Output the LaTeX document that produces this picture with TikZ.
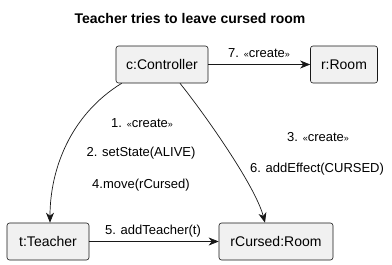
\documentclass[tikz,border=0pt]{standalone}
\usepackage{fontspec}
\setmainfont{Liberation Sans}
\usetikzlibrary{arrows.meta}
\definecolor{boxfill}{HTML}{F1F1F1}
\definecolor{ink}{HTML}{181818}
% small guillemets around stereotypes
\newcommand{\stereo}[1]{{\fontsize{9}{10}\selectfont«}#1{\fontsize{9}{10}\selectfont»}}
\begin{document}
\begin{tikzpicture}[x=1pt,y=-1pt,
  obj/.style={draw=ink,fill=boxfill,rounded corners=2.5pt,line width=0.6pt,
    inner sep=0pt,minimum height=37pt,font=\fontsize{14}{16}\selectfont},
  msg/.style={draw=ink,line width=0.7pt,-{Stealth[length=10pt,width=8pt,inset=3pt]}},
  lbl/.style={font=\fontsize{13}{15}\selectfont,text=black,inner sep=0pt}]
\useasboundingbox (0,0) rectangle (392,265);

\node[font=\bfseries\fontsize{14}{16}\selectfont] (title) at (190,18) {Teacher tries to leave cursed room};

\node[obj,minimum width=92pt] (c) at (162,64.5) {c:Controller};
\node[obj,minimum width=67pt] (r) at (344,64.5) {r:Room};
\node[obj,minimum width=82pt] (t) at (48,241.5) {t:Teacher};
\node[obj,minimum width=114pt] (rc) at (276,241.5) {rCursed:Room};

\draw[msg] (c.east) -- (r.west);
\draw[msg] (t.east) -- (rc.west);
\draw[msg] (c.south west) ++(6,0) coordinate (c1)
  .. controls (70,115) and (50,170) .. (t.north -| 50,0);
\draw[msg] (c.south) ++(18,0) coordinate (c2)
  .. controls (203,112) and (255,185) .. (rc.north -| 265,0);

\node[lbl] (l7) at (259,53) {7. \stereo{create}};
\node[lbl] (l5) at (153,231) {5. addTeacher(t)};
\node[lbl] (l1) at (142,123) {1. \stereo{create}};
\node[lbl] (l2) at (141,153) {2. setState(ALIVE)};
\node[lbl] (l4) at (141,185) {4.move(rCursed)};
\node[lbl] (l3) at (318,137) {3. \stereo{create}};
\node[lbl] (l6) at (317,169) {6. addEffect(CURSED)};
\end{tikzpicture}
\end{document}
